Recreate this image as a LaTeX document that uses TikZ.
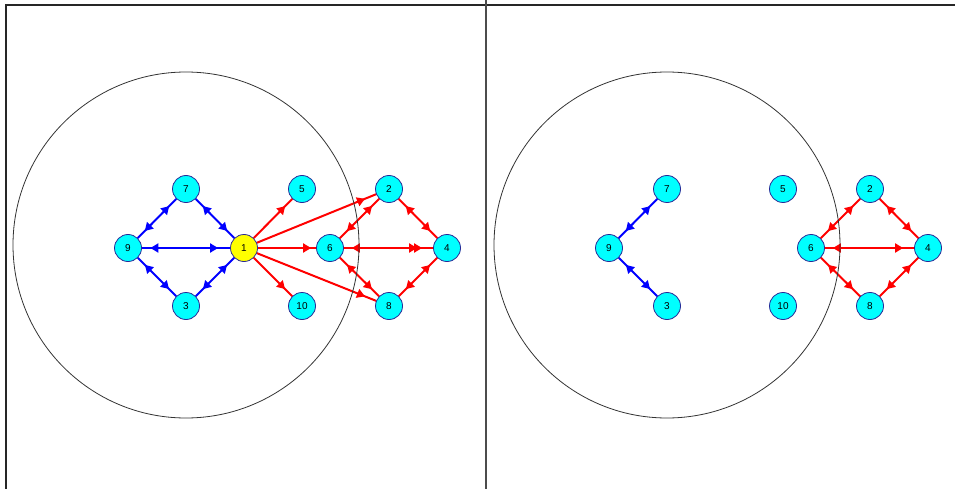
\documentclass[tikz,border=0pt]{standalone}
\usepackage{fontspec}
\setmainfont{Liberation Sans}
\usetikzlibrary{arrows.meta,decorations.markings,backgrounds}
\definecolor{nodecyan}{RGB}{0,255,255}
\definecolor{nodeyellow}{RGB}{255,255,0}
\definecolor{nodeline}{RGB}{40,40,150}
\definecolor{edgeblue}{RGB}{0,0,255}
\definecolor{edgered}{RGB}{255,0,0}
\tikzset{
  vtx/.style={circle, draw=nodeline, fill=nodecyan, minimum size=27pt, inner sep=0pt, line width=0.8pt, font=\fontsize{10}{11}\selectfont},
  bl/.style={color=edgeblue, line width=2pt},
  rd/.style={color=edgered, line width=2pt},
  hE/.style={postaction={decorate, decoration={markings, mark=at position -#1 with {\arrow{Triangle[length=8pt,width=9pt]}}}}},
  hS/.style={postaction={decorate, decoration={markings, mark=at position #1 with {\arrowreversed{Triangle[length=8pt,width=9pt]}}}}},
  hE/.default=10pt, hS/.default=10pt,
  frame/.style={line width=1.2pt, color=black!85},
  ring/.style={line width=0.8pt, color=black!80}
}
\begin{document}
\begin{tikzpicture}[x=1pt,y=-1pt]
\useasboundingbox (0,0) rectangle (955,489);
% frame
\draw[frame] (6,489) -- (6,5) -- (955,5);
\draw[frame, color=black!70, line width=1.6pt] (486,0) -- (486,489);
% circles
\draw[ring] (186,245) circle[radius=173];
\draw[ring] (667,245) circle[radius=173];
% left nodes
\node[vtx] (L9) at (128,248) {9};
\node[vtx] (L7) at (186,189) {7};
\node[vtx] (L3) at (186,306) {3};
\node[vtx, fill=nodeyellow] (L1) at (244,248) {1};
\node[vtx] (L5) at (302,189) {5};
\node[vtx] (L10) at (302,306) {10};
\node[vtx] (L6) at (330,248) {6};
\node[vtx] (L2) at (389,189) {2};
\node[vtx] (L4) at (447,248) {4};
\node[vtx] (L8) at (389,306) {8};
% right nodes
\node[vtx] (R9) at (609,248) {9};
\node[vtx] (R7) at (667,189) {7};
\node[vtx] (R3) at (667,306) {3};
\node[vtx] (R5) at (783,189) {5};
\node[vtx] (R10) at (783,306) {10};
\node[vtx] (R6) at (811,248) {6};
\node[vtx] (R2) at (870,189) {2};
\node[vtx] (R4) at (928,248) {4};
\node[vtx] (R8) at (870,306) {8};
\begin{scope}[on background layer]
% left blue
\draw[bl, hS=8.5pt, hE=12pt] (L9) -- (L1);
\draw[bl, hS, hE] (L9) -- (L7);
\draw[bl, hS, hE] (L9) -- (L3);
\draw[bl, hS, hE] (L7) -- (L1);
\draw[bl, hS, hE] (L3) -- (L1);
% left red
\draw[rd, hE] (L1) -- (L5);
\draw[rd, hE] (L1) -- (L10);
\draw[rd, hE=12pt] (L1) -- (L2);
\draw[rd, hE=12pt] (L1) -- (L8);
\draw[rd, hE=5pt] (L1) -- (L6);
\draw[rd, hE=16pt] (L1) -- (L4);
\draw[rd, hS=11pt, hE=8pt] (L4) -- (L6);
\draw[rd, hS, hE] (L2) -- (L6);
\draw[rd, hS, hE] (L8) -- (L6);
\draw[rd, hS, hE] (L2) -- (L4);
\draw[rd, hS, hE] (L8) -- (L4);
% right blue
\draw[bl, hS, hE] (R9) -- (R7);
\draw[bl, hS, hE] (R9) -- (R3);
% right red
\draw[rd, hS=11pt, hE=8pt] (R4) -- (R6);
\draw[rd, hS, hE] (R2) -- (R6);
\draw[rd, hS, hE] (R8) -- (R6);
\draw[rd, hS, hE] (R2) -- (R4);
\draw[rd, hS, hE] (R8) -- (R4);
\end{scope}
\end{tikzpicture}
\end{document}
